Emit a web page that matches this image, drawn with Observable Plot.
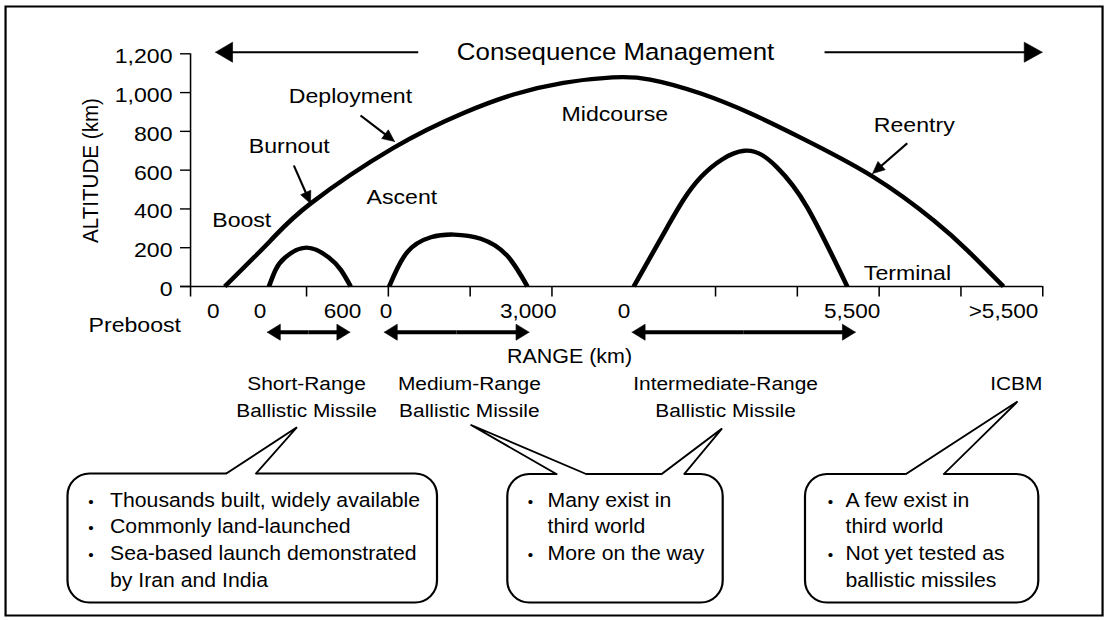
<!DOCTYPE html>
<html><head><meta charset="utf-8">
<script src="https://cdn.jsdelivr.net/npm/d3@7"></script>
<script src="https://cdn.jsdelivr.net/npm/@observablehq/plot@0.6"></script>
<style>
html,body{margin:0;padding:0;background:#fff;}
#chart svg{display:block;}
</style></head><body><div id="chart"></div>
<script>
// ---------------- data ----------------
const yTicks = [0, 200, 400, 600, 800, 1000, 1200];            // altitude (km)
const xTicks = [1, 2, 3, 4, 6, 7, 8, 9, 10];                   // schematic range ticks
const rangeLabels = ["0", "0", "600", "0", "3,000", "0", "5,500", ">5,500"];
const rangeLabelAt = [-0.14, 0.43, 1.44, 1.97, 3.71, 4.88, 7.67, 9.52];

// trajectories: [schematic range position, altitude km]
const icbm = [[0,0],[0.56,237],[1.05,428],[2.06,714],[2.92,895],[3.53,990],[4.14,1050],[4.74,1078],[5.2,1067],[5.82,995],[6.43,892],[7.04,768],[7.93,565],[8.67,340],[9.08,186],[9.52,0]];
const srbm = [[0.54,0],[0.62,85],[0.74,150],[1.0,200],[1.27,150],[1.42,85],[1.54,0]];
const mrbm = [[2.01,0],[2.23,177],[2.52,254],[2.8,268],[3.13,246],[3.45,160],[3.7,0]];
const irbm = [[5.0,0],[5.41,306],[5.82,564],[6.35,700],[6.75,615],[7.12,409],[7.61,0]];

// range spans of missile classes (double arrows)
const missileSpans = [[0.52, 1.53], [1.95, 3.72], [4.98, 7.71]];

const phaseLabels = ["Boost", "Burnout", "Deployment", "Ascent", "Midcourse", "Reentry", "Terminal"];
const missileClasses = [["Short-Range", "Ballistic Missile"], ["Medium-Range", "Ballistic Missile"], ["Intermediate-Range", "Ballistic Missile"], ["ICBM"]];
const srbmNotes = [["Thousands built, widely available"], ["Commonly land-launched"], ["Sea-based launch demonstrated", "by Iran and India"]];
const mrIrNotes = [["Many exist in", "third world"], ["More on the way"]];
const icbmNotes = [["A few exist in", "third world"], ["Not yet tested as", "ballistic missiles"]];
const titleText = "Consequence Management";

// ---------------- layout ----------------
const S = 1.1;                 // horizontal stretch of the reference artwork
const W = 1108 / S, H = 620;
const FONT = '"Liberation Sans", Arial, Helvetica, sans-serif';
// picture pixel -> data helpers (for annotations)
const U = px => (px - 224.2) / 81.8;
const A = py => (286 - py) * 1200 / 232.7;
const P = u => 224.2 + u * 81.8;

const phaseAt = [[211.7,226],[248.3,152.7],[288.3,102.7],[366,203.3],[561,120],[873.3,131],[863.3,279.3]];
const classCenter = [306, 468.8, 725, 1015.7];
const boxes = [
  {x1: 67.5, x2: 437, y1: 473.5, y2: 602.5, bullet: 90.5, text: 109.5, notes: srbmNotes},
  {x1: 507.3, x2: 722.7, y1: 474, y2: 602.5, bullet: 530, text: 547, notes: mrIrNotes},
  {x1: 805, x2: 1038.3, y1: 474, y2: 602.5, bullet: 830, text: 845, notes: icbmNotes}
];
const pointers = [
  {top: 473.5, bL: 225, bR: 255, tip: [296.4, 426.7]},
  {top: 474, bL: 556.7, bR: 586.7, tip: [470, 424.3]},
  {top: 474, bL: 660.5, bR: 683.3, tip: [721.5, 428]},
  {top: 474, bL: 904.7, bR: 942.8, tip: [1017, 401]}
];

// arrows in picture pixels
const arrows = [
  {tip: [215, 51.7], from: [417.7, 51.7], len: 17, half: 10, w: 2},
  {tip: [1041.7, 51.7], from: [824, 51.7], len: 18, half: 10, w: 2},
  {tip: [310, 203], from: [293.3, 165], len: 12, half: 5.5, w: 2},
  {tip: [394, 141], from: [360, 115], len: 12, half: 5.5, w: 2},
  {tip: [872, 173], from: [906.7, 142.7], len: 12, half: 5.5, w: 2}
];
missileSpans.forEach(([a, b]) => {
  const y = 331.7, xa = P(a), xb = P(b), xm = (xa + xb) / 2;
  arrows.push({tip: [xa, y], from: [xm, y], len: 13, half: 8, w: 4});
  arrows.push({tip: [xb, y], from: [xm, y], len: 13, half: 8, w: 4});
});

const heads = [], shafts = [];
arrows.forEach((a, id) => {
  const dx = a.from[0] - a.tip[0], dy = a.from[1] - a.tip[1];
  const L = Math.hypot(dx, dy), ux = dx / L, uy = dy / L;
  const bx = a.tip[0] + ux * a.len, by = a.tip[1] + uy * a.len;
  const nx = -uy, ny = ux;
  [[a.tip[0], a.tip[1]], [bx + nx * a.half, by + ny * a.half], [bx - nx * a.half, by - ny * a.half], [a.tip[0], a.tip[1]]]
    .forEach(([x, y]) => heads.push({id, x: U(x), y: A(y)}));
  const sx = a.tip[0] + ux * a.len * 0.6, sy = a.tip[1] + uy * a.len * 0.6;
  shafts.push({x1: U(a.from[0]), y1: A(a.from[1]), x2: U(sx), y2: A(sy), w: a.w});
});

const covers = [], sides = [];
pointers.forEach((p, id) => {
  [[p.bL, p.top + 1.6], [p.bL, p.top], p.tip, [p.bR, p.top], [p.bR, p.top + 1.6]]
    .forEach(([x, y]) => covers.push({id, x: U(x), y: A(y)}));
  [[p.bL, p.top], p.tip, [p.bR, p.top]].forEach(([x, y]) => sides.push({id, x: U(x), y: A(y)}));
});

const noteRows = [];
boxes.forEach((b, k) => {
  let row = 0;
  b.notes.forEach(item => item.forEach((t, j) => { noteRows.push({k, row, t, bullet: j === 0}); row++; }));
});
const classRows = missileClasses.flatMap((lines, k) => lines.map((t, i) => ({k, i, t})));

const txt = {fill: "black", lineAnchor: "bottom"};
const trajectory = data => Plot.line(data, {x: d => d[0], y: d => d[1], curve: "natural", stroke: "black", strokeWidth: 4.3, strokeLinecap: "butt"});

const chart = Plot.plot({
  width: W, height: H,
  marginLeft: 5 / S, marginRight: 6 / S, marginTop: 6, marginBottom: 5,
  x: {domain: [0, 10], range: [224.2 / S, 1042.2 / S], axis: null},
  y: {domain: [0, 1200], range: [286, 53.3], axis: null},
  style: {fontFamily: FONT, background: "white", color: "black"},
  marks: [
    Plot.frame({stroke: "black", strokeWidth: 2}),
    // axes
    Plot.ruleX([U(190)], {x: d => d, y1: A(296.5), y2: 1200, stroke: "black", strokeWidth: 1.4}),
    Plot.ruleY(yTicks, {y: d => d, x1: U(180), x2: U(190), stroke: "black", strokeWidth: 1.4}),
    Plot.ruleY([0], {y: d => d, x1: U(180), x2: 10, stroke: "black", strokeWidth: 1.4}),
    Plot.ruleX(xTicks, {x: d => d, y1: 0, y2: A(296.5), stroke: "black", strokeWidth: 1.4}),
    Plot.text(yTicks, {...txt, x: U(172), y: d => d, dy: 9.5, text: d => d3.format(",")(d), textAnchor: "end", fontSize: 21}),
    Plot.text(rangeLabels, {...txt, x: (d, i) => rangeLabelAt[i], y: A(317.3), text: d => d, textAnchor: "middle", fontSize: 20.5}),
    Plot.text(["ALTITUDE (km)"], {fill: "black", x: U(90.5), y: A(170), text: d => d, rotate: -90, textAnchor: "middle", lineAnchor: "middle", fontSize: 20.6}),
    Plot.text(["RANGE (km)"], {...txt, x: U(569), y: A(362.3), text: d => d, textAnchor: "middle", fontSize: 19.5}),
    Plot.text(["Preboost"], {...txt, x: U(88), y: A(331), text: d => d, textAnchor: "start", fontSize: 21}),
    Plot.text([titleText], {...txt, x: U(615), y: A(59.7), text: d => d, textAnchor: "middle", fontSize: 23.5}),
    // trajectories
    trajectory(icbm), trajectory(srbm), trajectory(mrbm), trajectory(irbm),
    Plot.text(phaseLabels, {...txt, x: (d, i) => U(phaseAt[i][0]), y: (d, i) => A(phaseAt[i][1]), text: d => d, textAnchor: "start", fontSize: 21}),
    // arrows
    Plot.link(shafts, {x1: "x1", y1: "y1", x2: "x2", y2: "y2", stroke: "black", strokeWidth: d => d.w}),
    Plot.line(heads, {x: "x", y: "y", z: "id", fill: "black", stroke: "black", strokeWidth: 0.6, strokeLinejoin: "miter"}),
    // missile class labels
    Plot.text(classRows, {...txt, x: d => U(classCenter[d.k]), y: d => A(389.3 + d.i * 26.7), text: "t", textAnchor: "middle", fontSize: 19}),
    // callouts
    Plot.rect(boxes, {x1: d => U(d.x1), x2: d => U(d.x2), y1: d => A(d.y1), y2: d => A(d.y2), fill: "white", stroke: "black", strokeWidth: 2, rx: 20, ry: 22}),
    Plot.line(covers, {x: "x", y: "y", z: "id", fill: "white", stroke: "none"}),
    Plot.line(sides, {x: "x", y: "y", z: "id", stroke: "black", strokeWidth: 1.8, strokeLinejoin: "miter", strokeLinecap: "butt"}),
    Plot.text(noteRows.filter(d => d.bullet), {...txt, x: d => U(boxes[d.k].bullet), y: d => A(506 + d.row * 26.8), text: () => "•", textAnchor: "middle", fontSize: 14}),
    Plot.text(noteRows, {...txt, x: d => U(boxes[d.k].text), y: d => A(506 + d.row * 26.8), text: "t", textAnchor: "start", fontSize: 19.3})
  ]
});

chart.setAttribute("width", 1108);
chart.setAttribute("height", H);
chart.setAttribute("viewBox", `0 0 ${W} ${H}`);
chart.setAttribute("preserveAspectRatio", "none");
chart.style.width = "1108px";
chart.style.height = H + "px";
chart.style.maxWidth = "none";
document.getElementById("chart").appendChild(chart);
</script></body></html>
